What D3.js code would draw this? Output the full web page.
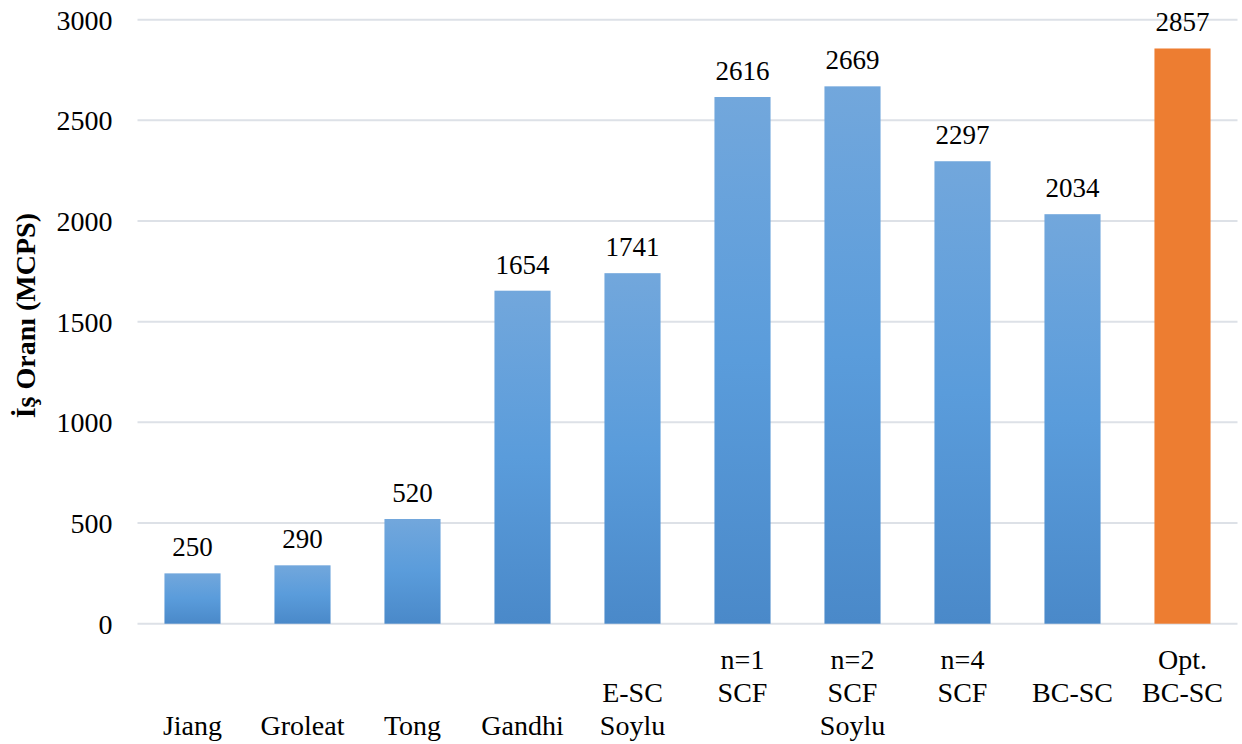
<!DOCTYPE html>
<html>
<head>
<meta charset="utf-8">
<script src="https://cdn.jsdelivr.net/npm/d3@7"></script>
<style>
  html, body { margin: 0; padding: 0; background: #ffffff; }
  svg { display: block; }
  text { font-family: "Liberation Serif", "Times New Roman", Tinos, "DejaVu Serif", serif; fill: #000; }
</style>
</head>
<body>
<svg id="chart" width="1242" height="744"></svg>
<script>
// Throughput of each implementation (MCPS)
const categories = ["Jiang", "Groleat", "Tong", "Gandhi", "E-SC Soylu", "n=1 SCF", "n=2 SCF Soylu", "n=4 SCF", "BC-SC", "Opt. BC-SC"];
// Label lines per category, three text rows under the axis ("" = empty row)
const labelLines = [
  ["", "", "Jiang"],
  ["", "", "Groleat"],
  ["", "", "Tong"],
  ["", "", "Gandhi"],
  ["", "E-SC", "Soylu"],
  ["n=1", "SCF", ""],
  ["n=2", "SCF", "Soylu"],
  ["n=4", "SCF", ""],
  ["", "BC-SC", ""],
  ["Opt.", "BC-SC", ""]
];
const values = [250, 290, 520, 1654, 1741, 2616, 2669, 2297, 2034, 2857];
const highlighted = ["Opt. BC-SC"];
const yTicks = [0, 500, 1000, 1500, 2000, 2500, 3000];
const yTitle = "İş Oranı (MCPS)";

const FONT = "'Liberation Serif', 'Times New Roman', Tinos, 'DejaVu Serif', serif";

const svg = d3.select("#chart");
const plotLeft = 137.5, plotRight = 1237.5, plotTop = 19.7, plotBottom = 623.7;

const x = d3.scaleBand().domain(categories).range([plotLeft, plotRight]).paddingInner(0.49).paddingOuter(0.245);
const y = d3.scaleLinear().domain([0, 3000]).range([plotBottom, plotTop]);

// Blue gradient, lighter at the top of each bar
const defs = svg.append("defs");
const grad = defs.append("linearGradient")
  .attr("id", "barBlue").attr("x1", 0).attr("y1", 0).attr("x2", 0).attr("y2", 1);
grad.append("stop").attr("offset", "0%").attr("stop-color", "#72a7dc");
grad.append("stop").attr("offset", "50%").attr("stop-color", "#5a9cdb");
grad.append("stop").attr("offset", "100%").attr("stop-color", "#4a89c9");

// Horizontal gridlines
svg.append("g")
  .selectAll("line")
  .data(yTicks)
  .join("line")
  .attr("x1", plotLeft).attr("x2", plotRight)
  .attr("y1", d => y(d)).attr("y2", d => y(d))
  .attr("stroke", "#dde1e7").attr("stroke-width", 2);

// Y axis tick labels
const yAxis = d3.axisLeft(y).tickValues(yTicks).tickSize(0).tickPadding(0).tickFormat(d3.format("d"));
const gy = svg.append("g").attr("transform", `translate(${plotLeft - 25},0)`).call(yAxis);
gy.attr("font-family", FONT).attr("font-size", 28);
gy.select(".domain").remove();
gy.selectAll("text")
  .style("font-family", FONT)
  .attr("font-size", 28)
  .attr("fill", "#000")
  .attr("dy", "0.34em");

// Bars
svg.append("g")
  .selectAll("rect")
  .data(categories)
  .join("rect")
  .attr("x", d => x(d))
  .attr("width", x.bandwidth())
  .attr("y", (d, i) => y(values[i]))
  .attr("height", (d, i) => y(0) - y(values[i]))
  .attr("fill", d => highlighted.includes(d) ? "#ed7d31" : "url(#barBlue)");

// Value labels above bars
svg.append("g")
  .selectAll("text")
  .data(categories)
  .join("text")
  .attr("x", d => x(d) + x.bandwidth() / 2)
  .attr("y", (d, i) => y(values[i]) - 17)
  .attr("text-anchor", "middle")
  .style("font-family", FONT)
  .attr("font-size", 27)
  .text((d, i) => values[i]);

// Category labels, three rows
const rowBaselines = [669, 702, 735];
const cat = svg.append("g")
  .selectAll("g")
  .data(categories)
  .join("g");
cat.each(function (d, i) {
  const g = d3.select(this);
  labelLines[i].forEach((line, r) => {
    if (!line) return;
    g.append("text")
      .attr("x", x(d) + x.bandwidth() / 2)
      .attr("y", rowBaselines[r])
      .attr("text-anchor", "middle")
      .style("font-family", FONT)
      .attr("font-size", 28)
      .text(line);
  });
});

// Y axis title
svg.append("text")
  .attr("transform", `translate(35,${(plotTop + plotBottom) / 2 - 6}) rotate(-90)`)
  .attr("text-anchor", "middle")
  .style("font-family", FONT)
  .attr("font-size", 28)
  .attr("font-weight", "bold")
  .text(yTitle);
</script>
</body>
</html>
